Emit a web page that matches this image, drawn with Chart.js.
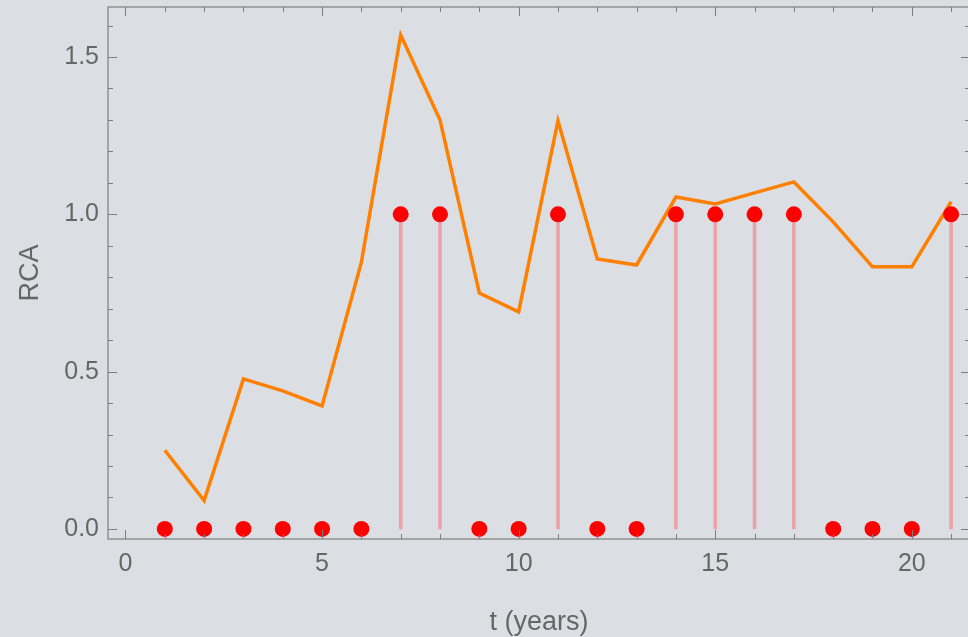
<!DOCTYPE html>
<html>
<head>
<meta charset="utf-8">
<script src="https://cdn.jsdelivr.net/npm/chart.js@4"></script>
<style>
  html, body { margin: 0; padding: 0; background: #dbdfe3; overflow: hidden; }
  #wrap { width: 970px; height: 637px; position: relative; }
</style>
</head>
<body>
<div id="wrap"><canvas id="rca-chart"></canvas></div>
<script>
(function(){
	'use strict';

	// yearly values
	const years = [1, 2, 3, 4, 5, 6, 7, 8, 9, 10, 11, 12, 13, 14, 15, 16, 17, 18, 19, 20, 21];
	const rcaValues = [0.25, 0.09, 0.477, 0.439, 0.391, 0.848, 1.57, 1.30, 0.75, 0.69, 1.297,
		0.858, 0.839, 1.055, 1.033, 1.068, 1.103, 0.976, 0.833, 0.833, 1.04];
	const advantage = [0, 0, 0, 0, 0, 0, 1, 1, 0, 0, 1, 0, 0, 1, 1, 1, 1, 0, 0, 0, 1];

	const xTicks = [0, 5, 10, 15, 20];
	const yTicks = [0, 0.5, 1.0, 1.5];

	const axisColor = '#7d7d7d';
	const textColor = '#666666';
	const fontFamily = '"Liberation Sans", Arial, sans-serif';

	// Mathematica-style frame with inward ticks on all four sides
	// (the right edge of the frame falls just past the window, as in the original)
	const framePlugin = {
		id: 'frame',
		afterDatasetsDraw(chart) {
			const ctx = chart.ctx;
			const a = chart.chartArea;
			const xs = chart.scales.x, ys = chart.scales.y;
			ctx.save();
			ctx.strokeStyle = axisColor;
			ctx.lineWidth = 1.2;
			ctx.strokeRect(a.left, a.top, a.right - a.left, a.bottom - a.top);
			ctx.lineWidth = 1;
			ctx.beginPath();
			for (let v = 0; v <= 21; v++) {
				const px = Math.round(xs.getPixelForValue(v)) + 0.5;
				const len = v % 5 === 0 ? 9 : 5;
				ctx.moveTo(px, a.bottom); ctx.lineTo(px, a.bottom - len);
				ctx.moveTo(px, a.top); ctx.lineTo(px, a.top + len);
			}
			for (let i = 0; i <= 16; i++) {
				const v = i / 10;
				const py = Math.round(ys.getPixelForValue(v)) + 0.5;
				const len = i % 5 === 0 ? 9 : 5;
				ctx.moveTo(a.left, py); ctx.lineTo(a.left + len, py);
				ctx.moveTo(a.right, py); ctx.lineTo(a.right - len, py);
			}
			ctx.stroke();
			ctx.restore();
		}
	};

	const el = document.getElementById('rca-chart');
	new Chart(el.getContext('2d'), {
		type: 'scatter',
		data: {
			datasets: [
				{
					type: 'scatter',
					label: 'advantage',
					data: years.map((t, i) => ({ x: t, y: advantage[i] })),
					pointRadius: 8,
					pointHoverRadius: 8,
					backgroundColor: '#ff0000',
					borderWidth: 0,
					order: 1
				},
				{
					type: 'line',
					label: 'RCA',
					data: years.map((t, i) => ({ x: t, y: rcaValues[i] })),
					borderColor: '#ff8000',
					borderWidth: 3.5,
					pointRadius: 0,
					tension: 0,
					fill: false,
					order: 2
				},
				{
					type: 'bar',
					label: 'stems',
					data: years.map((t, i) => ({ x: t, y: advantage[i] })),
					backgroundColor: '#e9a3a9',
					barThickness: 3,
					borderWidth: 0,
					order: 3
				}
			]
		},
		options: {
			responsive: true,
			maintainAspectRatio: false,
			animation: false,
			layout: { autoPadding: false, padding: { top: 7, right: 0, left: 0, bottom: 0 } },
			plugins: {
				legend: { display: false },
				tooltip: { enabled: false }
			},
			scales: {
				x: {
					type: 'linear',
					min: -0.445,
					max: 21.48,
					offset: false,
					grid: { display: false, drawTicks: false },
					border: { display: false },
					afterBuildTicks: s => { s.ticks = xTicks.map(v => ({ value: v })); },
					afterFit: s => { s.height = 98; s.paddingLeft = 0; s.paddingRight = 0; },
					ticks: {
						padding: 10,
						color: textColor,
						font: { family: fontFamily, size: 25 },
						callback: v => String(v)
					},
					title: {
						display: true,
						text: 't (years)',
						color: textColor,
						font: { family: fontFamily, size: 27 },
						padding: { top: 4, bottom: -2 }
					}
				},
				y: {
					type: 'linear',
					min: -0.032,
					max: 1.659,
					grid: { display: false, drawTicks: false },
					border: { display: false },
					afterBuildTicks: s => { s.ticks = yTicks.map(v => ({ value: v })); },
					afterFit: s => { s.width = 108; s.paddingTop = 0; s.paddingBottom = 0; },
					ticks: {
						padding: 9,
						color: textColor,
						font: { family: fontFamily, size: 25 },
						callback: v => v.toFixed(1)
					},
					title: {
						display: true,
						text: 'RCA',
						color: textColor,
						font: { family: fontFamily, size: 27 },
						padding: { top: 14, bottom: 4 }
					}
				}
			}
		},
		plugins: [framePlugin]
	});
})();
</script>
</body>
</html>
